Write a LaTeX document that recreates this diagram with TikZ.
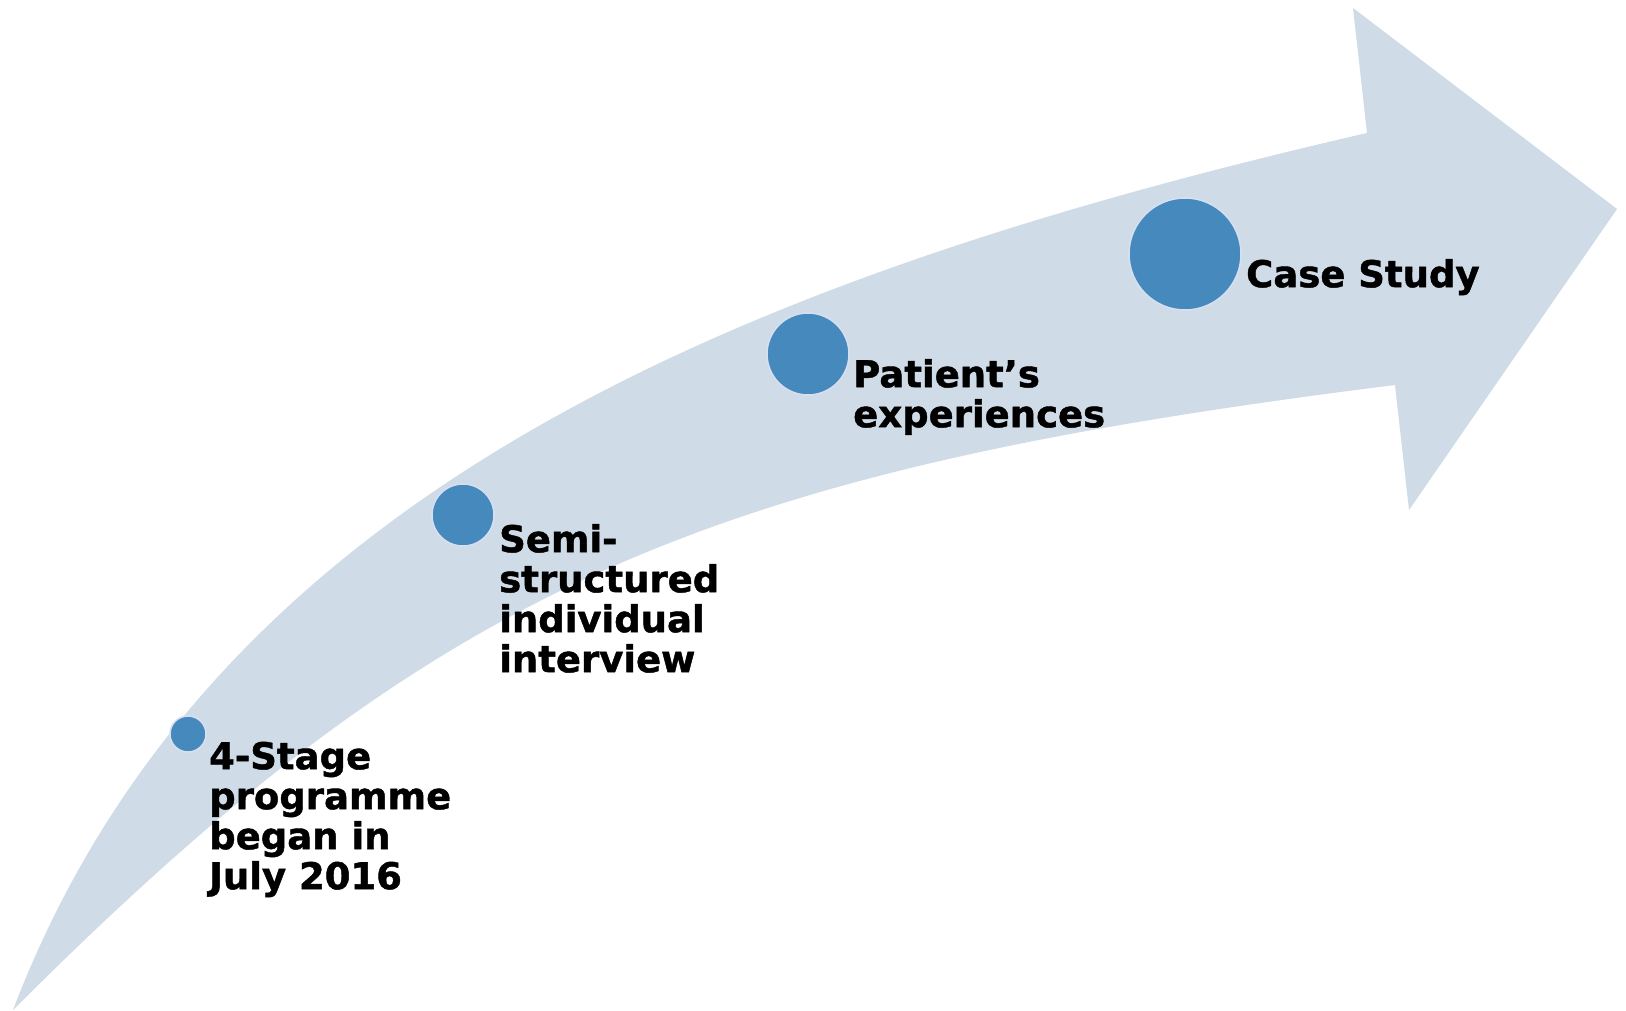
\documentclass[tikz,border=0pt]{standalone}
\usepackage{fontspec}
\setmainfont{DejaVu Sans}[BoldFeatures={FakeBold=1.2}]
\definecolor{bandcol}{RGB}{207,219,231}
\definecolor{dotblue}{RGB}{69,137,189}
\definecolor{ringcol}{RGB}{214,224,242}
\begin{document}
\begin{tikzpicture}[x=1pt,y=-1pt,
  stage/.style={circle, fill=dotblue, draw=ringcol, line width=1.5pt, inner sep=0pt, minimum size=#1},
  lbl/.style={anchor=north west, inner sep=0pt, align=left,
    font=\fontsize{37}{40}\selectfont\bfseries, text=black}]
\useasboundingbox (0,0) rectangle (1626,1011);
% curved arrow band
\fill[bandcol] (13,1010) .. controls (209,496) and (733,279) .. (1367,133)
  -- (1353,8) -- (1617,209) -- (1409,510) -- (1395,385)
  .. controls (700,472) and (437,586) .. (13,1010) -- cycle;
% stage dots
\node[stage=36pt]  (d1) at (188,734) {};
\node[stage=62pt]  (d2) at (463,515) {};
\node[stage=82pt]  (d3) at (808,354) {};
\node[stage=112pt] (d4) at (1185,254) {};
% labels
\node[lbl] (t1) at (209,739) {\rule{0pt}{30pt}4-Stage\\programme\\began in\\July 2016};
\node[lbl] (t2) at (499,522) {\rule{0pt}{30pt}Semi-\\structured\\individual\\interview};
\node[lbl] (t3) at (853,357) {\rule{0pt}{30pt}Patient’s\\experiences};
\node[lbl] (t4) at (1246,257) {\rule{0pt}{30pt}Case Study};
\end{tikzpicture}
\end{document}
